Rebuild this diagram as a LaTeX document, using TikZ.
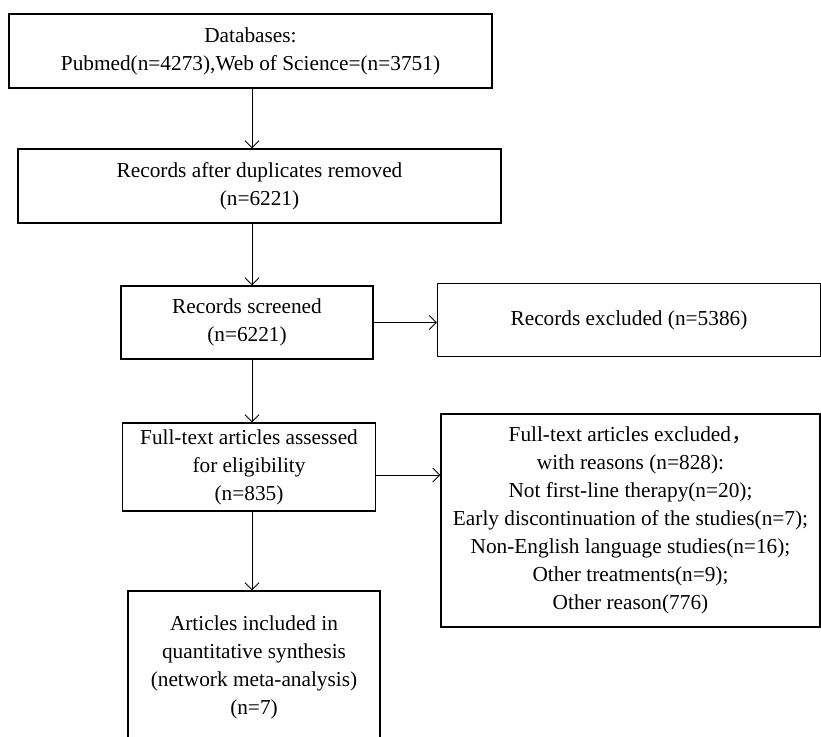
\documentclass[tikz,border=0pt]{standalone}
\usepackage{fontspec}
\setmainfont{Liberation Serif}
\newfontfamily\cjk{Noto Sans CJK SC}
\usetikzlibrary{arrows.meta}
\begin{document}
\begin{tikzpicture}[x=1pt,y=-1pt,
    box/.style={draw,line width=1.4pt,align=center,inner sep=0pt,
        font=\fontsize{21.3}{28}\selectfont},
    flow/.style={line width=0.9pt,-{Straight Barb[length=7pt,width=14pt]}}]
                \useasboundingbox (0,0) rectangle (821,736);
                \coordinate (spine) at (252, 0);

                \node[box,minimum width=483,minimum height=74] (db) at (250.5, 51)
                    {Databases:\\Pubmed(n=4273),Web of Science=(n=3751)};
                \node[box,minimum width=483,minimum height=74] (dedup) at (259.5, 186)
                    {Records after duplicates removed\\(n=6221)};
                \node[box,minimum width=252,minimum height=73] (screen) at (247, 322.5)
                    {Records screened\\(n=6221)};
                \node[box,minimum width=383,minimum height=73] (excl) at (629, 320)
                    {Records excluded (n=5386)};
                \node[box,minimum width=253,minimum height=88] (full) at (249, 467)
                    {Full-text articles assessed\\for eligibility\\(n=835)};
                \node[box,minimum width=379,minimum height=213] (fexcl) at (630.5, 520.5)
                    {Full-text articles excluded{\cjk ，}\\with reasons (n=828):\\Not first-line therapy(n=20);\\
                     Early discontinuation of the studies(n=7);\\Non-English language studies(n=16);\\
                     Other treatments(n=9);\\Other reason(776)};
                \node[box,minimum width=252,minimum height=152] (incl) at (254, 667)
                    {Articles included in\\quantitative synthesis\\(network meta-analysis)\\(n=7)};

                \draw[flow] (db.south -| spine) -- (dedup.north -| spine);
                \draw[flow] (dedup.south -| spine) -- (screen.north -| spine);
                \draw[flow] (screen.south -| spine) -- (full.north -| spine);
                \draw[flow] (full.south -| spine) -- (incl.north -| spine);

                \draw[flow] (screen.east) -- (screen.east -| excl.west);
                \draw[flow] ([yshift=-8]full.east) -- ([yshift=-8]full.east -| fexcl.west);
\end{tikzpicture}
\end{document}
